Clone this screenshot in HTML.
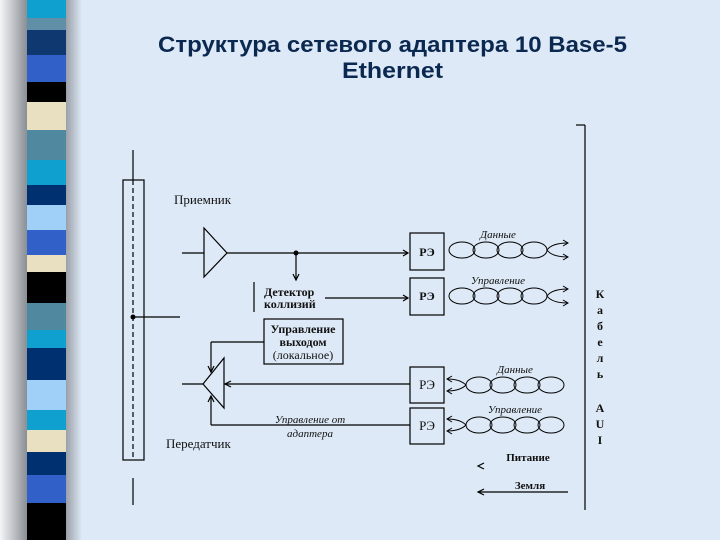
<!DOCTYPE html>
<html><head><meta charset="utf-8"><style>
body{margin:0;width:720px;height:540px;overflow:hidden;background:#dde9f6;}
</style></head><body>
<svg width="720" height="540" xmlns="http://www.w3.org/2000/svg" style="position:absolute;left:0;top:0">
<defs>
<linearGradient id="sh" x1="0" x2="1"><stop offset="0" stop-color="#f4f6f8"/><stop offset="1" stop-color="#8a8f95"/></linearGradient>
<linearGradient id="sh2" x1="0" x2="1"><stop offset="0" stop-color="#9aa0a8"/><stop offset="1" stop-color="#dde9f6"/></linearGradient>
</defs>
<rect x="0" y="0" width="27" height="540" fill="url(#sh)"/>
<rect x="66" y="0" width="16" height="540" fill="url(#sh2)"/>
<g>
<rect x="27" y="0" width="39" height="18" fill="#10a0d0"/>
<rect x="27" y="18" width="39" height="12" fill="#6090a8"/>
<rect x="27" y="30" width="39" height="25" fill="#103870"/>
<rect x="27" y="55" width="39" height="27" fill="#3060c8"/>
<rect x="27" y="82" width="39" height="20" fill="#000"/>
<rect x="27" y="102" width="39" height="28" fill="#e8e0c0"/>
<rect x="27" y="130" width="39" height="30" fill="#5088a0"/>
<rect x="27" y="160" width="39" height="25" fill="#10a0d0"/>
<rect x="27" y="185" width="39" height="20" fill="#003070"/>
<rect x="27" y="205" width="39" height="25" fill="#a0d0f8"/>
<rect x="27" y="230" width="39" height="25" fill="#3060c8"/>
<rect x="27" y="255" width="39" height="17" fill="#e8e0c0"/>
<rect x="27" y="272" width="39" height="31" fill="#000"/>
<rect x="27" y="303" width="39" height="27" fill="#5088a0"/>
<rect x="27" y="330" width="39" height="18" fill="#10a0d0"/>
<rect x="27" y="348" width="39" height="32" fill="#003070"/>
<rect x="27" y="380" width="39" height="30" fill="#a0d0f8"/>
<rect x="27" y="410" width="39" height="20" fill="#10a0d0"/>
<rect x="27" y="430" width="39" height="22" fill="#e8e0c0"/>
<rect x="27" y="452" width="39" height="23" fill="#003070"/>
<rect x="27" y="475" width="39" height="28" fill="#3060c8"/>
<rect x="27" y="503" width="39" height="37" fill="#000"/>
</g>
<text x="158" y="52" font-family="Liberation Sans, sans-serif" font-weight="bold" font-size="22" textLength="469" lengthAdjust="spacingAndGlyphs" fill="#0a2850">Структура сетевого адаптера 10 Base-5</text>
<text x="342" y="78" font-family="Liberation Sans, sans-serif" font-weight="bold" font-size="22" textLength="101" lengthAdjust="spacingAndGlyphs" fill="#0a2850">Ethernet</text>

<g stroke="#000" stroke-width="1.2" fill="none">
<line x1="133" y1="150" x2="133" y2="180"/>
<rect x="123" y="180" width="21" height="280"/>
<line x1="133" y1="180" x2="133" y2="460" stroke-dasharray="5,3"/>
<line x1="133" y1="478" x2="133" y2="505"/>
<line x1="133" y1="317" x2="180" y2="317"/>
<polygon points="204,228 227,253 204,277"/>
<line x1="182" y1="253" x2="204" y2="253"/>
<line x1="227" y1="253" x2="408" y2="253"/>
<line x1="296" y1="253" x2="296" y2="280"/>
<polyline points="293,274 296,280 299,274"/>
<polyline points="403,250 408,253 403,256"/>
<line x1="254" y1="282" x2="254" y2="312"/>
<line x1="325" y1="298" x2="408" y2="298"/>
<polyline points="403,295 408,298 403,301"/>
<rect x="264" y="319" width="79" height="45"/>
<line x1="211" y1="342" x2="264" y2="342"/>
<line x1="211" y1="342" x2="211" y2="372"/>
<polyline points="208,366 211,372 214,366"/>
<polygon points="224,358 224,408 203,384"/>
<line x1="182" y1="384" x2="203" y2="384"/>
<line x1="224" y1="384" x2="410" y2="384"/>
<polyline points="231,381 225,384 231,387"/>
<line x1="211" y1="425" x2="410" y2="425"/>
<line x1="211" y1="425" x2="211" y2="396"/>
<polyline points="208,402 211,396 214,402"/>
<rect x="410" y="233" width="34" height="37"/>
<rect x="410" y="278" width="34" height="37"/>
<rect x="410" y="367" width="34" height="36"/>
<rect x="410" y="408" width="34" height="36"/>
<line x1="585" y1="125" x2="585" y2="510"/>
<line x1="576" y1="125" x2="585" y2="125"/>
<line x1="478" y1="492" x2="568" y2="492"/>
<polyline points="484,489 478,492 484,495"/>
<polyline points="484,463 478,466 484,469"/>
</g>
<g stroke="#000" stroke-width="1" fill="none">
<g>
<ellipse cx="462" cy="250" rx="13" ry="8"/><ellipse cx="486" cy="250" rx="13" ry="8"/><ellipse cx="510" cy="250" rx="13" ry="8"/><ellipse cx="534" cy="250" rx="13" ry="8"/>
<path d="M547,250 Q552,243 568,243 M547,250 Q552,257 568,257"/>
<polyline points="563,240 568,243 563,246"/><polyline points="563,254 568,257 563,260"/>
</g>
<g transform="translate(0,46)">
<ellipse cx="462" cy="250" rx="13" ry="8"/><ellipse cx="486" cy="250" rx="13" ry="8"/><ellipse cx="510" cy="250" rx="13" ry="8"/><ellipse cx="534" cy="250" rx="13" ry="8"/>
<path d="M547,250 Q552,243 568,243 M547,250 Q552,257 568,257"/>
<polyline points="563,240 568,243 563,246"/><polyline points="563,254 568,257 563,260"/>
</g>
<g transform="translate(0,135)">
<path d="M447,244 Q460,244 466,250 M447,256 Q460,256 466,250"/>
<polyline points="452,241 447,244 452,247"/><polyline points="452,253 447,256 452,259"/>
<ellipse cx="479" cy="250" rx="13" ry="8"/><ellipse cx="503" cy="250" rx="13" ry="8"/><ellipse cx="527" cy="250" rx="13" ry="8"/><ellipse cx="551" cy="250" rx="13" ry="8"/>
</g>
<g transform="translate(0,175)">
<path d="M447,244 Q460,244 466,250 M447,256 Q460,256 466,250"/>
<polyline points="452,241 447,244 452,247"/><polyline points="452,253 447,256 452,259"/>
<ellipse cx="479" cy="250" rx="13" ry="8"/><ellipse cx="503" cy="250" rx="13" ry="8"/><ellipse cx="527" cy="250" rx="13" ry="8"/><ellipse cx="551" cy="250" rx="13" ry="8"/>
</g>
</g>
<circle cx="296" cy="253" r="2.5" fill="#000"/>
<circle cx="133" cy="317" r="2.5" fill="#000"/>
<g font-family="Liberation Serif, serif" fill="#111">
<text x="174" y="204" font-size="13">Приемник</text>
<text x="166" y="448" font-size="13">Передатчик</text>
<text x="264" y="296" font-size="12" font-weight="bold">Детектор</text>
<text x="264" y="308" font-size="12" font-weight="bold">коллизий</text>
<text x="303" y="333" font-size="12" font-weight="bold" text-anchor="middle">Управление</text>
<text x="303" y="346" font-size="12" font-weight="bold" text-anchor="middle">выходом</text>
<text x="303" y="359" font-size="12" text-anchor="middle">(локальное)</text>
<text x="310" y="423" font-size="11" font-style="italic" text-anchor="middle">Управление от</text>
<text x="310" y="437" font-size="11" font-style="italic" text-anchor="middle">адаптера</text>
<text x="427" y="256" font-size="12" font-weight="bold" text-anchor="middle">РЭ</text>
<text x="427" y="300" font-size="12" font-weight="bold" text-anchor="middle">РЭ</text>
<text x="427" y="389" font-size="13" text-anchor="middle">РЭ</text>
<text x="427" y="430" font-size="13" text-anchor="middle">РЭ</text>
<text x="498" y="238" font-size="11" font-style="italic" text-anchor="middle">Данные</text>
<text x="498" y="284" font-size="11" font-style="italic" text-anchor="middle">Управление</text>
<text x="515" y="373" font-size="11" font-style="italic" text-anchor="middle">Данные</text>
<text x="515" y="413" font-size="11" font-style="italic" text-anchor="middle">Управление</text>
<text x="528" y="461" font-size="11" font-weight="bold" text-anchor="middle">Питание</text>
<text x="530" y="489" font-size="11" font-weight="bold" text-anchor="middle">Земля</text>
<g font-size="12" font-weight="bold" text-anchor="middle">
<text x="600" y="298">К</text><text x="600" y="314">а</text><text x="600" y="330">б</text><text x="600" y="346">е</text><text x="600" y="362">л</text><text x="600" y="378">ь</text>
<text x="600" y="412">A</text><text x="600" y="428">U</text><text x="600" y="444">I</text>
</g>
</g>
</svg>
</body></html>
